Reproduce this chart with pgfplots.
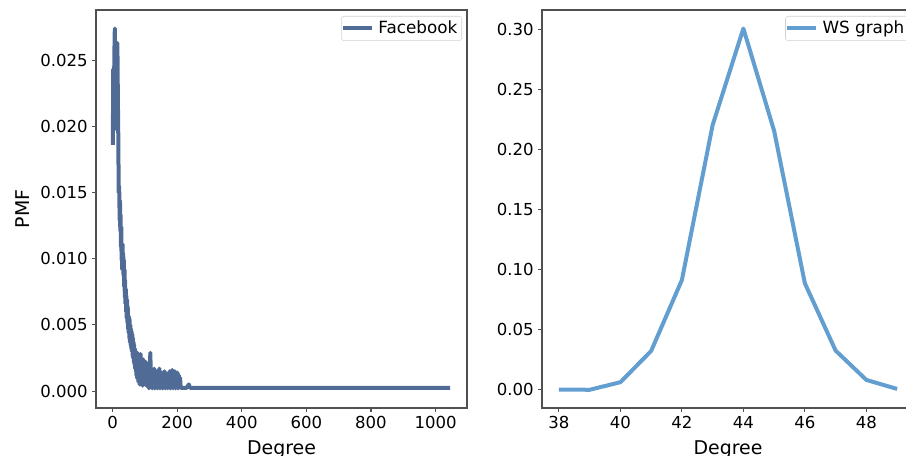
\documentclass[border=0pt]{standalone}
\usepackage{pgfplots}
\pgfplotsset{compat=1.18}
\usepackage{fontspec}
\setmainfont{DejaVu Sans}
\definecolor{fbcol}{RGB}{80,108,150}
\definecolor{wscol}{RGB}{98,158,208}
\definecolor{spinecol}{RGB}{80,80,80}

\pgfplotsset{
  common/.style={
    scale only axis, anchor=south west,
    height=298.5pt,
    axis line style={spinecol, line width=0.9pt},
    tick align=outside, tick pos=left,
    major tick length=2.7pt,
    every tick/.style={spinecol, line width=0.8pt},
    /pgf/number format/assume math mode=true,
    /pgf/number format/1000 sep={},
    tick label style={font=\fontsize{12.4}{14}\selectfont, text=black},
    label style={font=\fontsize{14.2}{16}\selectfont},
    xlabel style={at={(axis description cs:0.5,-0.1156)}, anchor=base},
    legend cell align=left,
    legend style={at={(1,1)}, anchor=north east, xshift=-3.75pt, yshift=-4.5pt,
      draw=black!18, rounded corners=2pt, fill=white,
      font=\fontsize{12.6}{14}\selectfont,
      inner xsep=0pt, inner ysep=1pt, nodes={inner xsep=3.3pt, inner ysep=2.6pt}},
    legend image code/.code={\draw[#1, line width=3pt] (0pt,0pt) -- (21.5pt,0pt);},
  }
}

\begin{document}
\begin{tikzpicture}
\useasboundingbox (0pt,0pt) rectangle (679.5pt,342pt);
\clip (0pt,0pt) rectangle (679.5pt,342pt);

\begin{axis}[common,
  at={(72pt,36pt)}, width=278.25pt,
  xmin=-51.2, xmax=1097.2, ymin=-0.00128, ymax=0.0288,
  xtick={0,200,400,600,800,1000},
  ytick={0,0.005,0.010,0.015,0.020,0.025},
  yticklabel style={/pgf/number format/.cd, fixed, fixed zerofill, precision=3},
  scaled y ticks=false,
  xlabel={Degree}, ylabel={PMF},
  ylabel style={at={(axis description cs:-0.1779,0.5)}, rotate=0, anchor=base},
]
\addplot[fbcol, line width=3pt, line join=round] coordinates {
(1,0.0186) (2,0.0243) (3,0.0238) (4,0.0245) (5,0.0230) (6,0.0260) (7,0.0274) (8,0.0250)
(9,0.0262) (10,0.0228) (11,0.0198) (12,0.0243) (13,0.0255) (14,0.0222) (15,0.0263)
(16,0.0235) (17,0.0210) (18,0.0188) (19,0.0150) (20,0.0155)
(21,0.0149) (22,0.0129) (23,0.0144) (24,0.0121) (25,0.0133) (26,0.0109) (27,0.0124)
(28,0.0099) (29,0.0109) (30,0.0092) (31,0.0111) (32,0.0094) (33,0.0104) (34,0.0087)
(35,0.0099) (36,0.0079) (37,0.0092) (38,0.0071) (39,0.0084) (40,0.0066) (41,0.0077)
(42,0.0060) (43,0.0072) (44,0.0055) (45,0.0069) (46,0.0052) (47,0.0064) (48,0.0047)
(49,0.0057) (50,0.0044) (51,0.0056) (52,0.0040) (53,0.0054) (54,0.0037) (55,0.0050)
(56,0.0035) (57,0.0047) (58,0.0032) (59,0.0045) (60,0.0030) (61,0.0043) (62,0.0027)
(63,0.0040) (64,0.0025) (65,0.0037) (66,0.0022) (67,0.0035) (68,0.0020) (69,0.0032)
(70,0.0017) (71,0.0030) (72,0.0015) (73,0.0027) (74,0.0012) (75,0.0025) (76,0.0010)
(77,0.0029) (78,0.0009) (79,0.0022) (80,0.0007) (81,0.0020) (82,0.0010) (83,0.0025)
(84,0.0005) (85,0.0018) (86,0.0007) (87,0.0028) (88,0.0005) (89,0.0016) (90,0.0005)
(91,0.0019) (93,0.0004) (95,0.0024) (97,0.0006) (99,0.0017) (101,0.0005) (103,0.0022)
(105,0.0004) (107,0.0016) (109,0.0007) (111,0.0019) (113,0.0002) (115,0.0014)
(117,0.0029) (119,0.0005) (121,0.0012) (123,0.0002) (125,0.0015) (127,0.0005)
(129,0.0017) (131,0.0002) (133,0.0012) (135,0.0005) (137,0.0015) (139,0.0002)
(141,0.0013) (143,0.0005) (145,0.0017) (147,0.0002) (149,0.0012) (151,0.0005)
(153,0.0014) (155,0.0002) (157,0.0011) (159,0.0007) (161,0.0015) (163,0.0002)
(165,0.0012) (167,0.0005) (169,0.0013) (171,0.0002) (173,0.0010) (175,0.0005)
(177,0.0015) (179,0.0002) (181,0.0012) (183,0.0005) (185,0.0016) (187,0.0002)
(189,0.0013) (191,0.0005) (193,0.0015) (195,0.0002) (197,0.0012) (199,0.0005)
(201,0.0014) (203,0.0002) (205,0.0012) (207,0.0004) (209,0.0010) (211,0.00025)
(215,0.00025) (222,0.00025) (230,0.00025) (236,0.0005) (240,0.00025) (1045,0.00025)
};
\addlegendentry{Facebook}
\end{axis}

\begin{axis}[common,
  at={(406.5pt,36pt)}, width=279pt,
  xmin=37.45, xmax=49.55, ymin=-0.01505, ymax=0.316,
  xtick={38,40,42,44,46,48},
  ytick={0,0.05,0.10,0.15,0.20,0.25,0.30},
  yticklabel style={/pgf/number format/.cd, fixed, fixed zerofill, precision=2},
  scaled y ticks=false,
  xlabel={Degree},
]
\addplot[wscol, line width=3pt, line join=round] coordinates {
(38,0.0003) (39,0.0001) (40,0.0064) (41,0.0324) (42,0.0914) (43,0.2203)
(44,0.3006) (45,0.2155) (46,0.0887) (47,0.0327) (48,0.0083) (49,0.0008)
};
\addlegendentry{WS graph}
\end{axis}
\end{tikzpicture}
\end{document}
